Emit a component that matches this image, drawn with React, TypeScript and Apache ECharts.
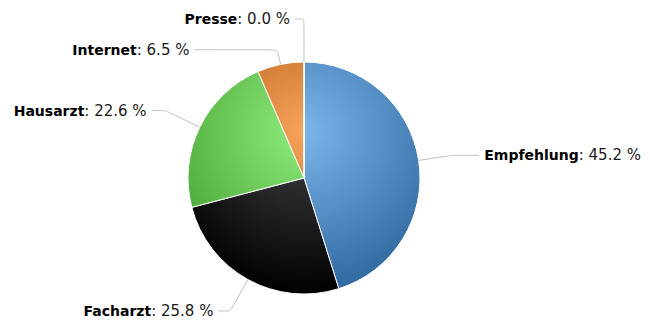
import React, { useEffect, useRef } from "react";
import * as echarts from "echarts";

// ---- data ----
const categories = ["Empfehlung", "Facharzt", "Hausarzt", "Internet", "Presse"];
const shares = [45.2, 25.8, 22.6, 6.5, 0.0];

// ---- styles ----
const baseColors = ["#7cb5ec", "#434348", "#90ed7d", "#f7a35c", "#8085e9"];
const edgeColors = ["rgb(48,105,160)", "rgb(0,0,0)", "rgb(68,161,49)", "rgb(171,87,16)", "rgb(52,57,157)"];
const connectorLength = [34, 36, 38, 15, 43];
const connectorLength2 = [27, 12, 14, 83, 9];

const CX = 304;
const CY = 178;
const R = 116;

export default function App() {
  const ref = useRef<HTMLDivElement>(null);

  useEffect(() => {
    if (!ref.current) return;
    const chart = echarts.init(ref.current, undefined, { renderer: "svg" });

    const data = categories.map((name, i) => ({
      name,
      value: shares[i],
      itemStyle: {
        color: {
          type: "radial",
          x: CX,
          y: CY - R + 0.3 * 2 * R,
          r: 0.7 * 2 * R,
          global: true,
          colorStops: [
            { offset: 0, color: baseColors[i] },
            { offset: 1, color: edgeColors[i] },
          ],
        },
      },
      labelLine: {
        length: connectorLength[i],
        length2: connectorLength2[i],
      },
    }));

    chart.setOption({
      animation: false,
      backgroundColor: "#ffffff",
      series: [
        {
          type: "pie",
          center: [CX, CY],
          radius: R,
          startAngle: 90,
          clockwise: true,
          avoidLabelOverlap: false,
          minShowLabelAngle: 0,
          itemStyle: { borderColor: "#ffffff", borderWidth: 1 },
          label: {
            show: true,
            position: "outside",
            fontFamily: "DejaVu Sans",
            fontSize: 15,
            color: "#1a1a1a",
            formatter: (p: any) => `{b|${p.name}}: ${Number(p.value).toFixed(1)} %`,
            rich: {
              b: { fontWeight: "bold", fontFamily: "DejaVu Sans", fontSize: 14, color: "#000000" },
            },
          },
          labelLine: {
            show: true,
            smooth: 0.15,
            lineStyle: { color: "#c0c0c0", width: 1 },
          },
          emphasis: { disabled: true },
          data,
        },
      ],
    });

    return () => chart.dispose();
  }, []);

  return (
    <div
      ref={ref}
      style={{ position: "fixed", left: 0, top: 0, width: 650, height: 332 }}
    />
  );
}
